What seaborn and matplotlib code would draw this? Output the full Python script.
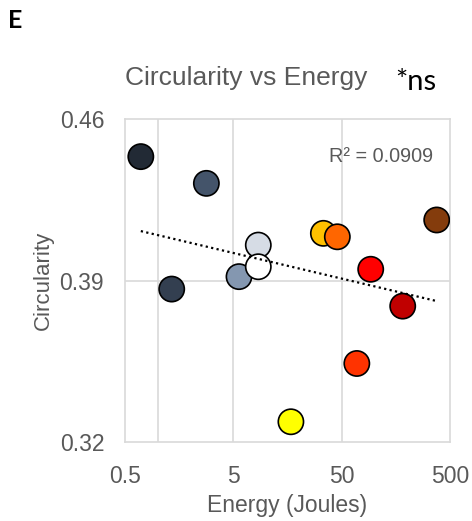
import numpy as np
import pandas as pd
import matplotlib
matplotlib.use("Agg")
import matplotlib.pyplot as plt
import seaborn as sns

# values
energy = [0.70, 2.82, 1.35, 5.64, 8.5, 8.5, 17.0, 33.9, 45.6, 69.0, 92.7, 183.0, 377.0]
circularity = [0.4438, 0.4322, 0.3863, 0.3917, 0.4054, 0.3960, 0.3287,
               0.4105, 0.4090, 0.3540, 0.3949, 0.3789, 0.4163]
point_ids = [f"p{i}" for i in range(len(energy))]
point_colors = ["#222a35", "#44546a", "#333f50", "#8497b0", "#d6dce5", "#ffffff",
                "#ffff00", "#ffc000", "#ff6600", "#ff3300", "#ff0000", "#c00000", "#843c0c"]
x_ticks = [0.5, 5, 50, 500]
x_grid = [1, 5, 50]
y_ticks = [0.32, 0.39, 0.46]

df = pd.DataFrame({"energy": energy, "circularity": circularity, "id": point_ids})

sns.set_style("white")
plt.rcParams["font.family"] = ["Liberation Sans", "DejaVu Sans"]
grey = "#595959"

fig = plt.figure(figsize=(4.72, 5.21), dpi=100)
ax = fig.add_axes([0.2648, 0.152, 0.6886, 0.619])

ax.set_xscale("log")
ax.set_xlim(0.5, 500)
ax.set_ylim(0.32, 0.46)

for g in x_grid:
    ax.axvline(g, color="#d9d9d9", lw=1.2, zorder=0)
ax.axhline(0.39, color="#d9d9d9", lw=1.2, zorder=0)

sns.scatterplot(data=df, x="energy", y="circularity", hue="id", palette=point_colors,
                s=330, edgecolor="black", linewidth=1.2, legend=False, ax=ax, zorder=3)

# logarithmic trendline
sns.regplot(data=df, x="energy", y="circularity", logx=True, ci=None, scatter=False,
            line_kws={"color": "black", "lw": 1.6, "ls": (0, (1, 1.5)), "zorder": 4}, ax=ax)

ax.set_xticks(x_ticks)
ax.set_xticklabels([str(t) for t in x_ticks])
ax.xaxis.set_minor_locator(matplotlib.ticker.NullLocator())
ax.set_yticks(y_ticks)
ax.set_yticklabels([f"{t:.2f}" for t in y_ticks])
ax.tick_params(axis="both", length=0, labelsize=16.5, labelcolor=grey)
ax.tick_params(axis="y", pad=15)
ax.tick_params(axis="x", pad=17)

for s in ax.spines.values():
    s.set_color("#d9d9d9")
    s.set_linewidth(1.2)

ax.set_xlabel("Energy (Joules)", fontsize=16.5, color=grey, labelpad=4)
ax.set_ylabel("Circularity", fontsize=16, color=grey, labelpad=4)

ax.text(0.948, 0.884, "R² = 0.0909", transform=ax.transAxes, ha="right", va="center",
        fontsize=14.3, color=grey)

fig.text(0.522, 0.85, "Circularity vs Energy", ha="center", va="center", fontsize=19, color=grey)
fig.text(0.882, 0.843, "*ns", ha="center", va="center", fontsize=21, color="black",
         family=["Lato", "DejaVu Sans"])
fig.text(0.017, 0.961, "E", ha="left", va="center", fontsize=18, fontweight="bold", color="black",
         family=["Lato", "DejaVu Sans"])

fig.savefig("out.png", dpi=100)
